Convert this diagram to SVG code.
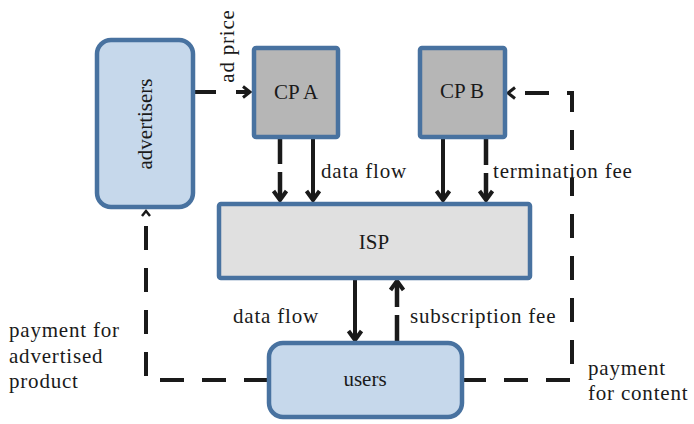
<svg xmlns="http://www.w3.org/2000/svg" width="694" height="424" viewBox="0 0 694 424" font-family="'Liberation Serif', 'DejaVu Serif', serif">
<defs>
<style>
text{font-family:'Liberation Serif','DejaVu Serif',serif}
.lbl{font-size:21px;fill:#1a1a1a;letter-spacing:0.8px}
.nl{font-size:21px;fill:#1a1a1a;text-anchor:middle}
.blue{fill:#c6d8eb;stroke:#4872a0;stroke-width:4.5}
.gray{fill:#b6b6b6;stroke:#4872a0;stroke-width:4.5}
.isp{fill:#e0e0e0;stroke:#4872a0;stroke-width:4.5}
.ln{fill:none;stroke:#1a1a1a;stroke-width:4}
.dl{fill:none;stroke:#1a1a1a;stroke-width:4;stroke-dasharray:24 18}
.ds{fill:none;stroke:#1a1a1a;stroke-width:4.5;stroke-dasharray:26 8}
.bg{fill:#ffffff}
</style>
<marker id="ah" markerUnits="userSpaceOnUse" orient="auto" refX="9" refY="7" markerWidth="14" markerHeight="16" overflow="visible">
<path d="M0,0.5 L9,7 L0,13.5" fill="none" stroke="#1a1a1a" stroke-width="4"/>
</marker>
<marker id="am" markerUnits="userSpaceOnUse" orient="auto" refX="7" refY="6" markerWidth="12" markerHeight="14" overflow="visible">
<path d="M0,0.5 L7,6 L0,11.5" fill="none" stroke="#1a1a1a" stroke-width="3"/>
</marker>
<marker id="as" markerUnits="userSpaceOnUse" orient="auto" refX="5" refY="4.5" markerWidth="10" markerHeight="10" overflow="visible">
<path d="M0,0.5 L5,4.5 L0,8.5" fill="none" stroke="#1a1a1a" stroke-width="2.5"/>
</marker>
</defs>
<rect width="694" height="424" fill="#ffffff"/>
<g id="connectors">
<path class="dl" d="M192,92 H250" marker-end="url(#am)"/>
<path class="ds" d="M280,138 V200" marker-end="url(#ah)"/>
<path class="ln" d="M313,138 V200" marker-end="url(#ah)"/>
<path class="ln" d="M443,139 V200" marker-end="url(#ah)"/>
<path class="ds" d="M486,139 V200" marker-end="url(#ah)"/>
<path class="ln" d="M355,280 V340" marker-end="url(#ah)"/>
<path class="ds" d="M397,341 V281" marker-end="url(#ah)"/>
<path class="dl" d="M462,380 H572 V93 H508" marker-end="url(#am)"/>
<path class="dl" d="M268,380 H146 V211" marker-end="url(#as)"/>
</g>
<g id="labels">
<rect class="bg" x="217" y="3" width="19" height="97"/>
<text class="lbl" transform="translate(234,46) rotate(-90)" text-anchor="middle">ad price</text>
<text class="lbl" x="321" y="178">data flow</text>
<rect class="bg" x="490" y="150" width="152" height="28"/>
<text class="lbl" x="493" y="178">termination fee</text>
<text class="lbl" x="233" y="323">data flow</text>
<text class="lbl" x="410" y="323">subscription fee</text>
<text class="lbl" x="9" y="337">payment for</text>
<text class="lbl" x="9" y="363">advertised</text>
<text class="lbl" x="9" y="388">product</text>
<text class="lbl" x="588" y="375">payment</text>
<text class="lbl" x="588" y="400">for content</text>
</g>
<g id="advertisers">
<rect class="blue" x="97" y="40" width="96" height="167" rx="14"/>
<text class="nl" transform="translate(152,124) rotate(-90)">advertisers</text>
</g>
<g id="cpa">
<rect class="gray" x="254" y="48" width="84" height="89" rx="2"/>
<text class="nl" x="296" y="99">CP A</text>
</g>
<g id="cpb">
<rect class="gray" x="420" y="48" width="85" height="89" rx="2"/>
<text class="nl" x="462" y="98">CP B</text>
</g>
<g id="isp">
<rect class="isp" x="219" y="204" width="311" height="74" rx="2"/>
<text class="nl" x="374" y="249">ISP</text>
</g>
<g id="users">
<rect class="blue" x="269" y="343" width="193" height="74" rx="14"/>
<text class="nl" x="365" y="386">users</text>
</g>
</svg>
